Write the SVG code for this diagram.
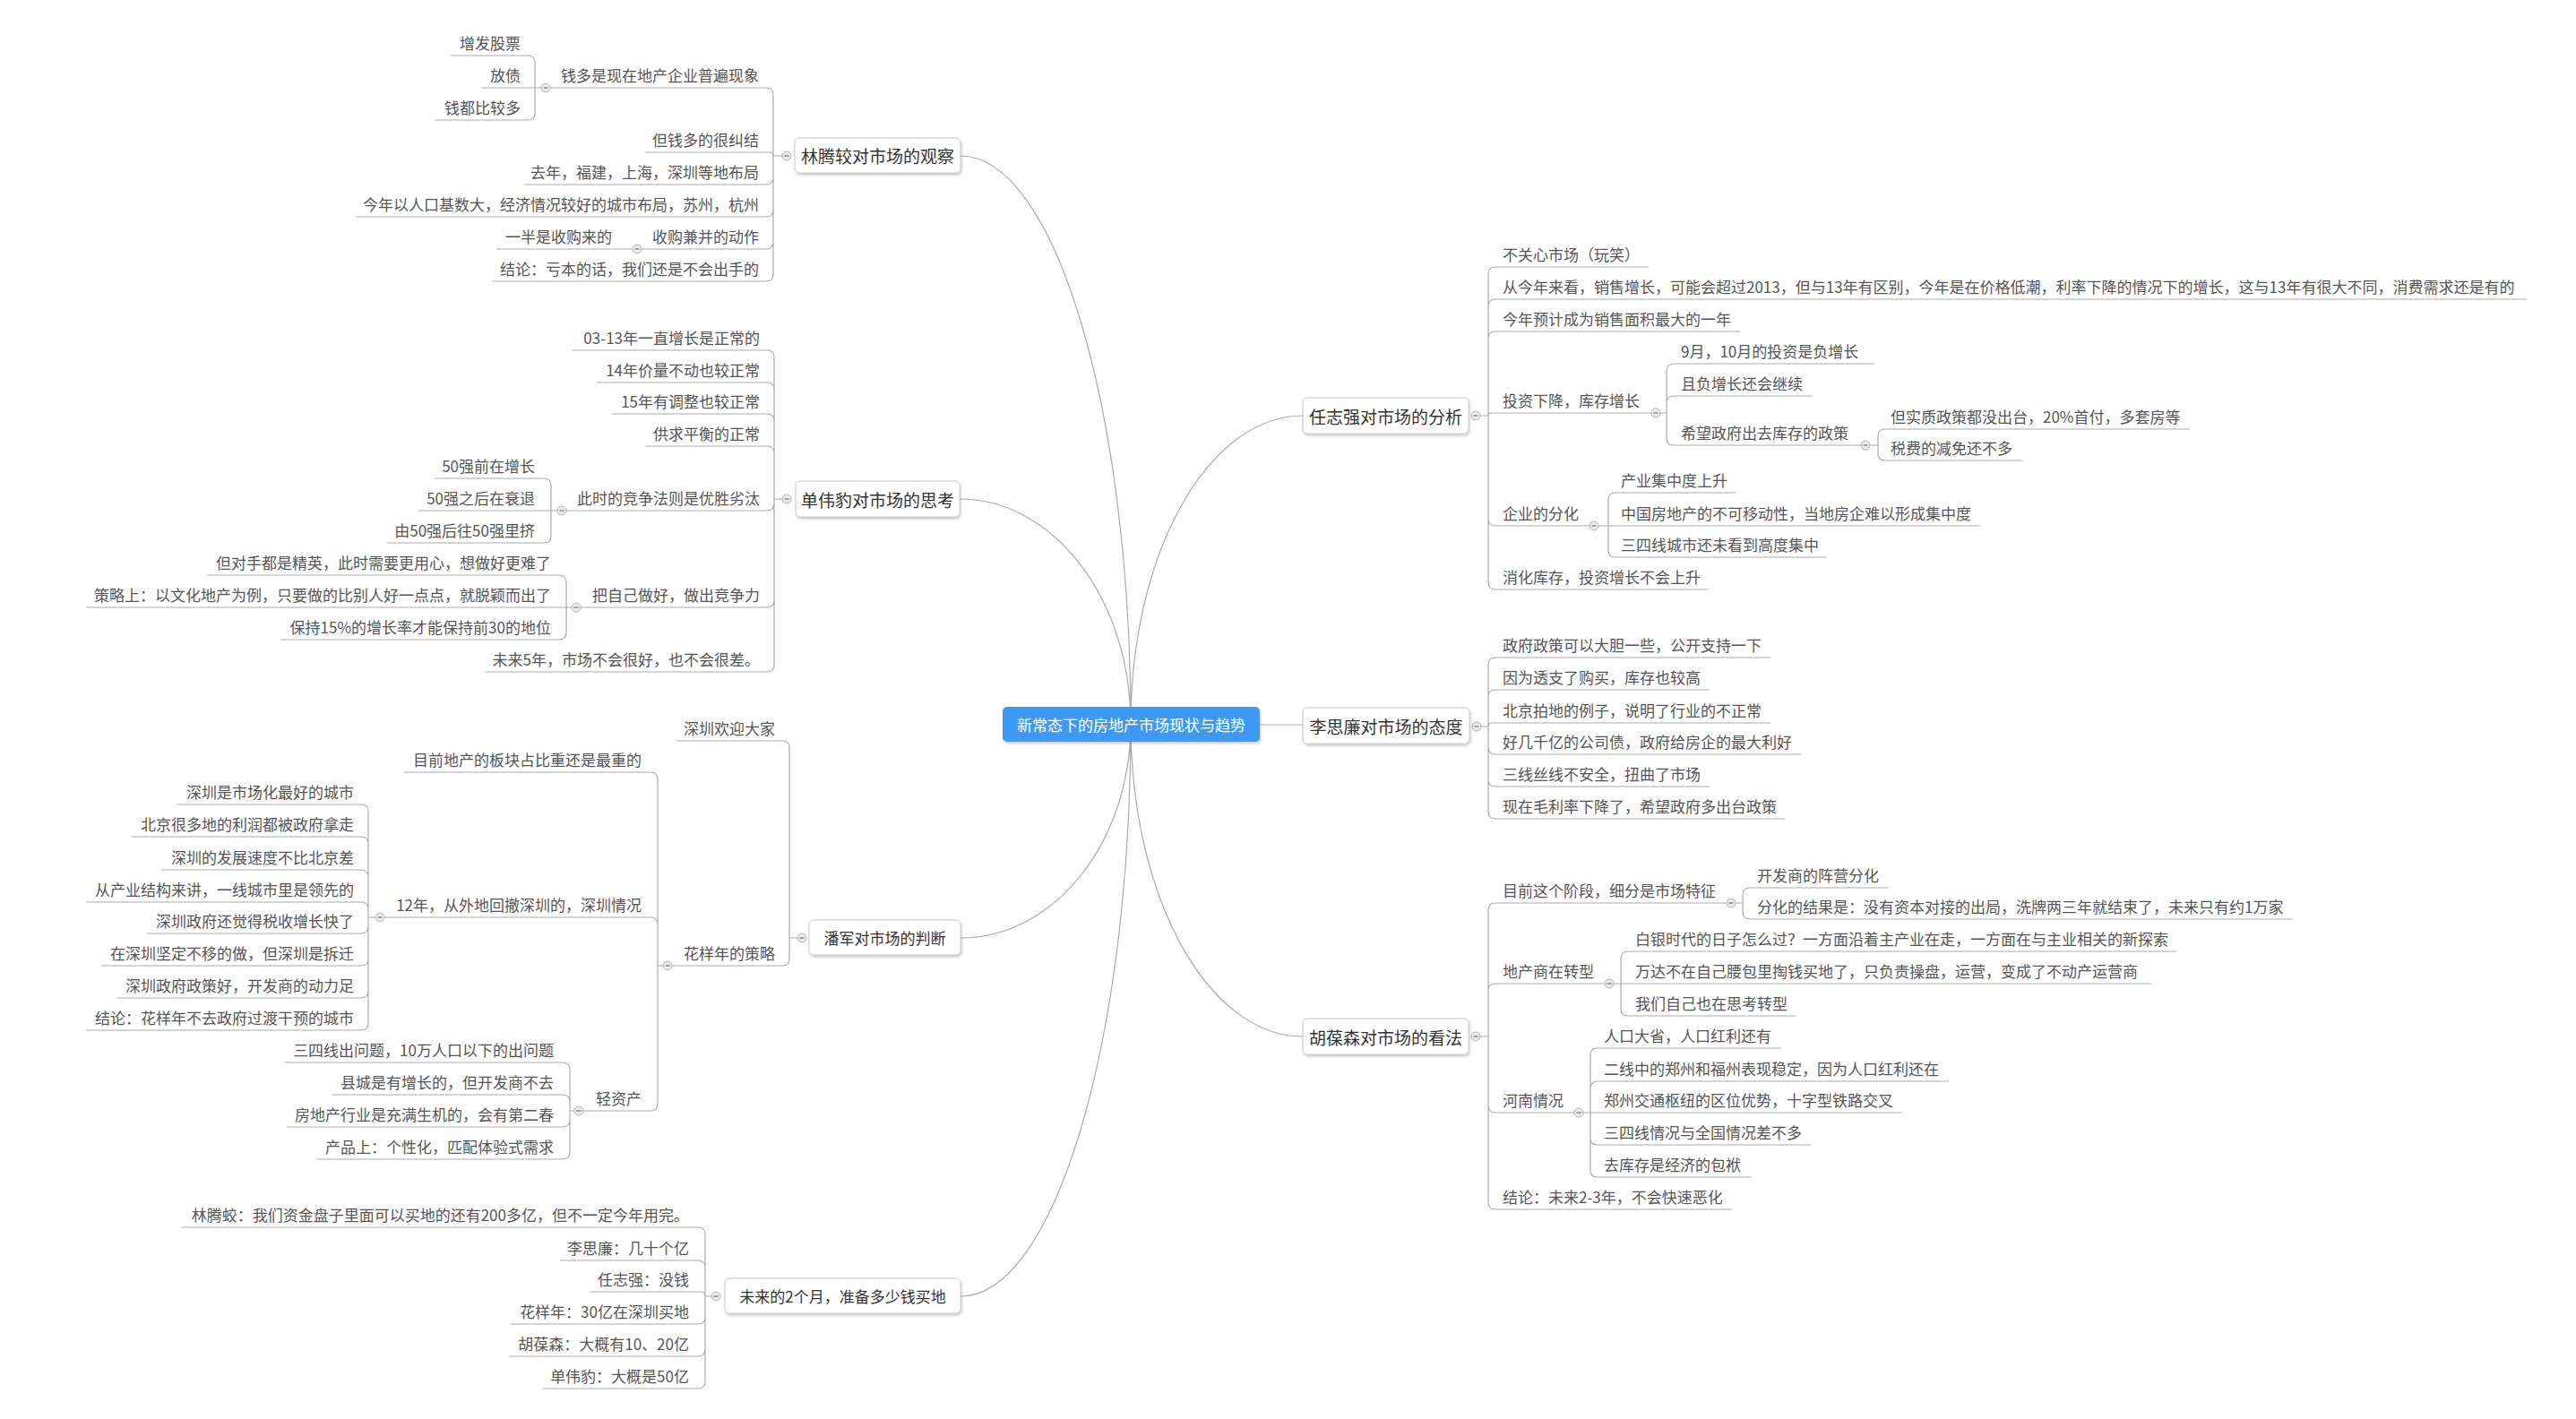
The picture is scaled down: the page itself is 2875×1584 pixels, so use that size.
<svg xmlns="http://www.w3.org/2000/svg" width="2875" height="1584" viewBox="0 0 2875 1584">
<defs>
<filter id="sh" x="-10%" y="-30%" width="120%" height="170%"><feDropShadow dx="1" dy="2" stdDeviation="1.6" flood-color="#000" flood-opacity="0.22"/></filter>
</defs>
<style>
.ln{fill:none;stroke:#ababab;stroke-width:1.2}
text{font-family:"Noto Sans CJK SC","Microsoft YaHei",sans-serif;dominant-baseline:central}
.t{font-size:17px;fill:#555}
.l{text-anchor:end}
.r{text-anchor:start}
.nb{fill:#fff;stroke:#c8c8c8;stroke-width:1;filter:url(#sh)}
.nt{font-size:19px;fill:#333;text-anchor:middle}
.ct{font-size:17px;fill:#fff;text-anchor:middle}
.dc{fill:#ebebeb;stroke:#b3b3b3;stroke-width:1}
.dm{stroke:#7a7a7a;stroke-width:1.3}
</style>
<rect width="2875" height="1584" fill="#fff"/>
<g id="connectors">
<path class="ln" d="M1262 808 C1262 458 1177 174 1072 174 M1262 808 C1262 669 1176 557 1071 557 M1262 808 C1262 940 1177 1047 1072 1047 M1262 808 C1262 1161 1177 1447 1072 1447 M1262 808 C1262 618 1348 464 1454 464 M1406 809 H1454 M1262 808 C1262 1001 1348 1157 1454 1157"/>
<path class="ln" d="M878 174 H863 V106 Q863 98 855 98 H609 M878 174 H863 Q863 170 859 170 H720 M878 174 H863 V198 Q863 206 855 206 H585 M878 174 H863 V234 Q863 242 855 242 H397 M878 174 H863 V270 Q863 278 855 278 H711 M878 174 H863 V306 Q863 314 855 314 H549"/>
<path class="ln" d="M609 98 H597 V70 Q597 62 589 62 H503 M609 98 H537 M609 98 H597 V126 Q597 134 589 134 H486 M711 278 H554"/>
<path class="ln" d="M878 557 H864 V399 Q864 391 856 391 H639 M878 557 H864 V435 Q864 427 856 427 H666 M878 557 H864 V470 Q864 462 856 462 H683 M878 557 H864 V506 Q864 498 856 498 H720 M878 557 H864 V562 Q864 570 856 570 H627 M878 557 H864 V670 Q864 678 856 678 H643 M878 557 H864 V742 Q864 750 856 750 H541"/>
<path class="ln" d="M627 570 H615 V542 Q615 534 607 534 H485 M627 570 H467 M627 570 H615 V598 Q615 606 607 606 H432"/>
<path class="ln" d="M643 678 H632 V650 Q632 642 624 642 H231 M643 678 H96 M643 678 H632 V706 Q632 714 624 714 H313"/>
<path class="ln" d="M895 1047 H881 V835 Q881 827 873 827 H755 M895 1047 H881 V1070 Q881 1078 873 1078 H745"/>
<path class="ln" d="M745 1078 H734 V870 Q734 862 726 862 H451 M745 1078 H734 V1032 Q734 1024 726 1024 H424 M745 1078 H734 V1232 Q734 1240 726 1240 H646"/>
<path class="ln" d="M424 1024 H411 V906 Q411 898 403 898 H197 M424 1024 H411 V942 Q411 934 403 934 H147 M424 1024 H411 V979 Q411 971 403 971 H180 M424 1024 H411 V1015 Q411 1007 403 1007 H96 M424 1024 H411 V1034 Q411 1042 403 1042 H164 M424 1024 H411 V1070 Q411 1078 403 1078 H113 M424 1024 H411 V1106 Q411 1114 403 1114 H131 M424 1024 H411 V1142 Q411 1150 403 1150 H96"/>
<path class="ln" d="M646 1240 H636 V1194 Q636 1186 628 1186 H317 M646 1240 H636 V1230 Q636 1222 628 1222 H371 M646 1240 H636 V1250 Q636 1258 628 1258 H320 M646 1240 H636 V1286 Q636 1294 628 1294 H353"/>
<path class="ln" d="M799 1447 H787 V1378 Q787 1370 779 1370 H203 M799 1447 H787 V1415 Q787 1407 779 1407 H625 M799 1447 H787 Q787 1442 782 1442 H659 M799 1447 H787 V1470 Q787 1478 779 1478 H570 M799 1447 H787 V1506 Q787 1514 779 1514 H568 M799 1447 H787 V1542 Q787 1550 779 1550 H606"/>
<path class="ln" d="M1647 464 H1661 V306 Q1661 298 1669 298 H1840 M1647 464 H1661 V342 Q1661 334 1669 334 H2820 M1647 464 H1661 V378 Q1661 370 1669 370 H1942 M1647 464 H1661 Q1661 461 1664 461 H1848 M1647 464 H1661 V579 Q1661 587 1669 587 H1779 M1647 464 H1661 V650 Q1661 658 1669 658 H1907"/>
<path class="ln" d="M1848 461 H1860 V414 Q1860 406 1868 406 H2092 M1848 461 H1860 V450 Q1860 442 1868 442 H2023 M1848 461 H1860 V489 Q1860 497 1868 497 H2082"/>
<path class="ln" d="M2082 497 H2096 V487 Q2096 479 2104 479 H2444 M2082 497 H2096 V506 Q2096 514 2104 514 H2257"/>
<path class="ln" d="M1779 587 H1795 V558 Q1795 550 1803 550 H1937 M1779 587 H2210 M1779 587 H1795 V614 Q1795 622 1803 622 H2039"/>
<path class="ln" d="M1648 811 H1661 V742 Q1661 734 1669 734 H1976 M1648 811 H1661 V778 Q1661 770 1669 770 H1908 M1648 811 H1661 Q1661 807 1665 807 H1976 M1648 811 H1661 V834 Q1661 842 1669 842 H2010 M1648 811 H1661 V870 Q1661 878 1669 878 H1908 M1648 811 H1661 V906 Q1661 914 1669 914 H1992"/>
<path class="ln" d="M1647 1157 H1661 V1016 Q1661 1008 1669 1008 H1932 M1647 1157 H1661 V1106 Q1661 1098 1669 1098 H1796 M1647 1157 H1661 V1234 Q1661 1242 1669 1242 H1762 M1647 1157 H1661 V1342 Q1661 1350 1669 1350 H1933"/>
<path class="ln" d="M1932 1008 H1945 V999 Q1945 991 1953 991 H2108 M1932 1008 H1945 V1018 Q1945 1026 1953 1026 H2559"/>
<path class="ln" d="M1796 1098 H1809 V1070 Q1809 1062 1817 1062 H2429 M1796 1098 H2401 M1796 1098 H1809 V1126 Q1809 1134 1817 1134 H2004"/>
<path class="ln" d="M1762 1242 H1775 V1178 Q1775 1170 1783 1170 H1988 M1762 1242 H1775 V1215 Q1775 1207 1783 1207 H2175 M1762 1242 H2123 M1762 1242 H1775 V1270 Q1775 1278 1783 1278 H2021 M1762 1242 H1775 V1306 Q1775 1314 1783 1314 H1955"/>
</g>
<g id="collapse-dots">
<g><circle class="dc" cx="878" cy="174" r="5"/><path class="dm" d="M875.5 174 H880.5"/></g>
<g><circle class="dc" cx="878" cy="557" r="5"/><path class="dm" d="M875.5 557 H880.5"/></g>
<g><circle class="dc" cx="895" cy="1047" r="5"/><path class="dm" d="M892.5 1047 H897.5"/></g>
<g><circle class="dc" cx="799" cy="1447" r="5"/><path class="dm" d="M796.5 1447 H801.5"/></g>
<g><circle class="dc" cx="1647" cy="464" r="5"/><path class="dm" d="M1644.5 464 H1649.5"/></g>
<g><circle class="dc" cx="1648" cy="811" r="5"/><path class="dm" d="M1645.5 811 H1650.5"/></g>
<g><circle class="dc" cx="1647" cy="1157" r="5"/><path class="dm" d="M1644.5 1157 H1649.5"/></g>
<g><circle class="dc" cx="609" cy="98" r="5"/><path class="dm" d="M606.5 98 H611.5"/></g>
<g><circle class="dc" cx="711" cy="278" r="5"/><path class="dm" d="M708.5 278 H713.5"/></g>
<g><circle class="dc" cx="627" cy="570" r="5"/><path class="dm" d="M624.5 570 H629.5"/></g>
<g><circle class="dc" cx="643" cy="678" r="5"/><path class="dm" d="M640.5 678 H645.5"/></g>
<g><circle class="dc" cx="745" cy="1078" r="5"/><path class="dm" d="M742.5 1078 H747.5"/></g>
<g><circle class="dc" cx="424" cy="1024" r="5"/><path class="dm" d="M421.5 1024 H426.5"/></g>
<g><circle class="dc" cx="646" cy="1240" r="5"/><path class="dm" d="M643.5 1240 H648.5"/></g>
<g><circle class="dc" cx="1848" cy="461" r="5"/><path class="dm" d="M1845.5 461 H1850.5"/></g>
<g><circle class="dc" cx="2082" cy="497" r="5"/><path class="dm" d="M2079.5 497 H2084.5"/></g>
<g><circle class="dc" cx="1779" cy="587" r="5"/><path class="dm" d="M1776.5 587 H1781.5"/></g>
<g><circle class="dc" cx="1932" cy="1008" r="5"/><path class="dm" d="M1929.5 1008 H1934.5"/></g>
<g><circle class="dc" cx="1796" cy="1098" r="5"/><path class="dm" d="M1793.5 1098 H1798.5"/></g>
<g><circle class="dc" cx="1762" cy="1242" r="5"/><path class="dm" d="M1759.5 1242 H1764.5"/></g>
</g>
<g id="center"><rect x="1119" y="789" width="287" height="39" rx="5" fill="#3d9af4" filter="url(#sh)"/><text class="ct" x="1262.5" y="808.5">新常态下的房地产市场现状与趋势</text></g>
<g id="b1"><rect class="nb" x="887" y="154" width="185" height="39" rx="5"/><text class="nt" x="979.5" y="173.5">林腾较对市场的观察</text></g>
<g id="b2"><rect class="nb" x="888" y="537" width="183" height="40" rx="5"/><text class="nt" x="979.5" y="557">单伟豹对市场的思考</text></g>
<g id="b3"><rect class="nb" x="903" y="1027" width="169" height="39" rx="5"/><text class="nt" x="987.5" y="1046.5" style="font-size:17px">潘军对市场的判断</text></g>
<g id="b4"><rect class="nb" x="809" y="1427" width="263" height="39" rx="5"/><text class="nt" x="940.5" y="1446.5" style="font-size:17px">未来的2个月，准备多少钱买地</text></g>
<g id="b5"><rect class="nb" x="1454" y="444" width="185" height="40" rx="5"/><text class="nt" x="1546.5" y="464">任志强对市场的分析</text></g>
<g id="b6"><rect class="nb" x="1454" y="790" width="186" height="40" rx="5"/><text class="nt" x="1547" y="810">李思廉对市场的态度</text></g>
<g id="b7"><rect class="nb" x="1454" y="1137" width="185" height="40" rx="5"/><text class="nt" x="1546.5" y="1157">胡葆森对市场的看法</text></g>
<g id="b1-leaves" transform="translate(0,-1.5)">
<g id="b1-1"><text class="t l" x="847" y="85">钱多是现在地产企业普遍现象</text></g>
<g id="b1-1-1"><text class="t l" x="581" y="49">增发股票</text></g>
<g id="b1-1-2"><text class="t l" x="581" y="85">放债</text></g>
<g id="b1-1-3"><text class="t l" x="581" y="121">钱都比较多</text></g>
<g id="b1-2"><text class="t l" x="847" y="157">但钱多的很纠结</text></g>
<g id="b1-3"><text class="t l" x="847" y="193">去年，福建，上海，深圳等地布局</text></g>
<g id="b1-4"><text class="t l" x="847" y="229">今年以人口基数大，经济情况较好的城市布局，苏州，杭州</text></g>
<g id="b1-5"><text class="t l" x="847" y="265">收购兼并的动作</text></g>
<g id="b1-5-1"><text class="t l" x="683" y="265">一半是收购来的</text></g>
<g id="b1-6"><text class="t l" x="847" y="301">结论：亏本的话，我们还是不会出手的</text></g>
</g>
<g id="b2-leaves" transform="translate(0,-1.5)">
<g id="b2-1"><text class="t l" x="848" y="378">03-13年一直增长是正常的</text></g>
<g id="b2-2"><text class="t l" x="848" y="414">14年价量不动也较正常</text></g>
<g id="b2-3"><text class="t l" x="848" y="449">15年有调整也较正常</text></g>
<g id="b2-4"><text class="t l" x="848" y="485">供求平衡的正常</text></g>
<g id="b2-5"><text class="t l" x="848" y="557">此时的竞争法则是优胜劣汰</text></g>
<g id="b2-5-1"><text class="t l" x="597" y="521">50强前在增长</text></g>
<g id="b2-5-2"><text class="t l" x="597" y="557">50强之后在衰退</text></g>
<g id="b2-5-3"><text class="t l" x="597" y="593">由50强后往50强里挤</text></g>
<g id="b2-6"><text class="t l" x="848" y="665">把自己做好，做出竞争力</text></g>
<g id="b2-6-1"><text class="t l" x="615" y="629">但对手都是精英，此时需要更用心，想做好更难了</text></g>
<g id="b2-6-2"><text class="t l" x="615" y="665">策略上：以文化地产为例，只要做的比别人好一点点，就脱颖而出了</text></g>
<g id="b2-6-3"><text class="t l" x="615" y="701">保持15%的增长率才能保持前30的地位</text></g>
<g id="b2-7"><text class="t l" x="848" y="737">未来5年，市场不会很好，也不会很差。</text></g>
</g>
<g id="b3-leaves" transform="translate(0,-1.5)">
<g id="b3-1"><text class="t l" x="865" y="814">深圳欢迎大家</text></g>
<g id="b3-2"><text class="t l" x="865" y="1065">花样年的策略</text></g>
<g id="b3-2-1"><text class="t l" x="716" y="849">目前地产的板块占比重还是最重的</text></g>
<g id="b3-2-2"><text class="t l" x="716" y="1011">12年，从外地回撤深圳的，深圳情况</text></g>
<g id="b3-2-2-1"><text class="t l" x="395" y="885">深圳是市场化最好的城市</text></g>
<g id="b3-2-2-2"><text class="t l" x="395" y="921">北京很多地的利润都被政府拿走</text></g>
<g id="b3-2-2-3"><text class="t l" x="395" y="958">深圳的发展速度不比北京差</text></g>
<g id="b3-2-2-4"><text class="t l" x="395" y="994">从产业结构来讲，一线城市里是领先的</text></g>
<g id="b3-2-2-5"><text class="t l" x="395" y="1029">深圳政府还觉得税收增长快了</text></g>
<g id="b3-2-2-6"><text class="t l" x="395" y="1065">在深圳坚定不移的做，但深圳是拆迁</text></g>
<g id="b3-2-2-7"><text class="t l" x="395" y="1101">深圳政府政策好，开发商的动力足</text></g>
<g id="b3-2-2-8"><text class="t l" x="395" y="1137">结论：花样年不去政府过渡干预的城市</text></g>
<g id="b3-2-3"><text class="t l" x="716" y="1227">轻资产</text></g>
<g id="b3-2-3-1"><text class="t l" x="618" y="1173">三四线出问题，10万人口以下的出问题</text></g>
<g id="b3-2-3-2"><text class="t l" x="618" y="1209">县城是有增长的，但开发商不去</text></g>
<g id="b3-2-3-3"><text class="t l" x="618" y="1245">房地产行业是充满生机的，会有第二春</text></g>
<g id="b3-2-3-4"><text class="t l" x="618" y="1281">产品上：个性化，匹配体验式需求</text></g>
</g>
<g id="b4-leaves" transform="translate(0,-1.5)">
<g id="b4-1"><text class="t l" x="769" y="1357">林腾蛟：我们资金盘子里面可以买地的还有200多亿，但不一定今年用完。</text></g>
<g id="b4-2"><text class="t l" x="769" y="1394">李思廉：几十个亿</text></g>
<g id="b4-3"><text class="t l" x="769" y="1429">任志强：没钱</text></g>
<g id="b4-4"><text class="t l" x="769" y="1465">花样年：30亿在深圳买地</text></g>
<g id="b4-5"><text class="t l" x="769" y="1501">胡葆森：大概有10、20亿</text></g>
<g id="b4-6"><text class="t l" x="769" y="1537">单伟豹：大概是50亿</text></g>
</g>
<g id="b5-leaves" transform="translate(0,-1.5)">
<g id="b5-1"><text class="t r" x="1677" y="285">不关心市场（玩笑）</text></g>
<g id="b5-2"><text class="t r" x="1677" y="321">从今年来看，销售增长，可能会超过2013，但与13年有区别，今年是在价格低潮，利率下降的情况下的增长，这与13年有很大不同，消费需求还是有的</text></g>
<g id="b5-3"><text class="t r" x="1677" y="357">今年预计成为销售面积最大的一年</text></g>
<g id="b5-4"><text class="t r" x="1677" y="448">投资下降，库存增长</text></g>
<g id="b5-4-1"><text class="t r" x="1876" y="393">9月，10月的投资是负增长</text></g>
<g id="b5-4-2"><text class="t r" x="1876" y="429">且负增长还会继续</text></g>
<g id="b5-4-3"><text class="t r" x="1876" y="484">希望政府出去库存的政策</text></g>
<g id="b5-4-3-1"><text class="t r" x="2110" y="466">但实质政策都没出台，20%首付，多套房等</text></g>
<g id="b5-4-3-2"><text class="t r" x="2110" y="501">税费的减免还不多</text></g>
<g id="b5-5"><text class="t r" x="1677" y="574">企业的分化</text></g>
<g id="b5-5-1"><text class="t r" x="1809" y="537">产业集中度上升</text></g>
<g id="b5-5-2"><text class="t r" x="1809" y="574">中国房地产的不可移动性，当地房企难以形成集中度</text></g>
<g id="b5-5-3"><text class="t r" x="1809" y="609">三四线城市还未看到高度集中</text></g>
<g id="b5-6"><text class="t r" x="1677" y="645">消化库存，投资增长不会上升</text></g>
</g>
<g id="b6-leaves" transform="translate(0,-1.5)">
<g id="b6-1"><text class="t r" x="1677" y="721">政府政策可以大胆一些，公开支持一下</text></g>
<g id="b6-2"><text class="t r" x="1677" y="757">因为透支了购买，库存也较高</text></g>
<g id="b6-3"><text class="t r" x="1677" y="794">北京拍地的例子，说明了行业的不正常</text></g>
<g id="b6-4"><text class="t r" x="1677" y="829">好几千亿的公司债，政府给房企的最大利好</text></g>
<g id="b6-5"><text class="t r" x="1677" y="865">三线丝线不安全，扭曲了市场</text></g>
<g id="b6-6"><text class="t r" x="1677" y="901">现在毛利率下降了，希望政府多出台政策</text></g>
</g>
<g id="b7-leaves" transform="translate(0,-1.5)">
<g id="b7-1"><text class="t r" x="1677" y="995">目前这个阶段，细分是市场特征</text></g>
<g id="b7-1-1"><text class="t r" x="1961" y="978">开发商的阵营分化</text></g>
<g id="b7-1-2"><text class="t r" x="1961" y="1013">分化的结果是：没有资本对接的出局，洗牌两三年就结束了，未来只有约1万家</text></g>
<g id="b7-2"><text class="t r" x="1677" y="1085">地产商在转型</text></g>
<g id="b7-2-1"><text class="t r" x="1825" y="1049">白银时代的日子怎么过？一方面沿着主产业在走，一方面在与主业相关的新探索</text></g>
<g id="b7-2-2"><text class="t r" x="1825" y="1085">万达不在自己腰包里掏钱买地了，只负责操盘，运营，变成了不动产运营商</text></g>
<g id="b7-2-3"><text class="t r" x="1825" y="1121">我们自己也在思考转型</text></g>
<g id="b7-3"><text class="t r" x="1677" y="1229">河南情况</text></g>
<g id="b7-3-1"><text class="t r" x="1790" y="1157">人口大省，人口红利还有</text></g>
<g id="b7-3-2"><text class="t r" x="1790" y="1194">二线中的郑州和福州表现稳定，因为人口红利还在</text></g>
<g id="b7-3-3"><text class="t r" x="1790" y="1229">郑州交通枢纽的区位优势，十字型铁路交叉</text></g>
<g id="b7-3-4"><text class="t r" x="1790" y="1265">三四线情况与全国情况差不多</text></g>
<g id="b7-3-5"><text class="t r" x="1790" y="1301">去库存是经济的包袱</text></g>
<g id="b7-4"><text class="t r" x="1677" y="1337">结论：未来2-3年，不会快速恶化</text></g>
</g>
</svg>
